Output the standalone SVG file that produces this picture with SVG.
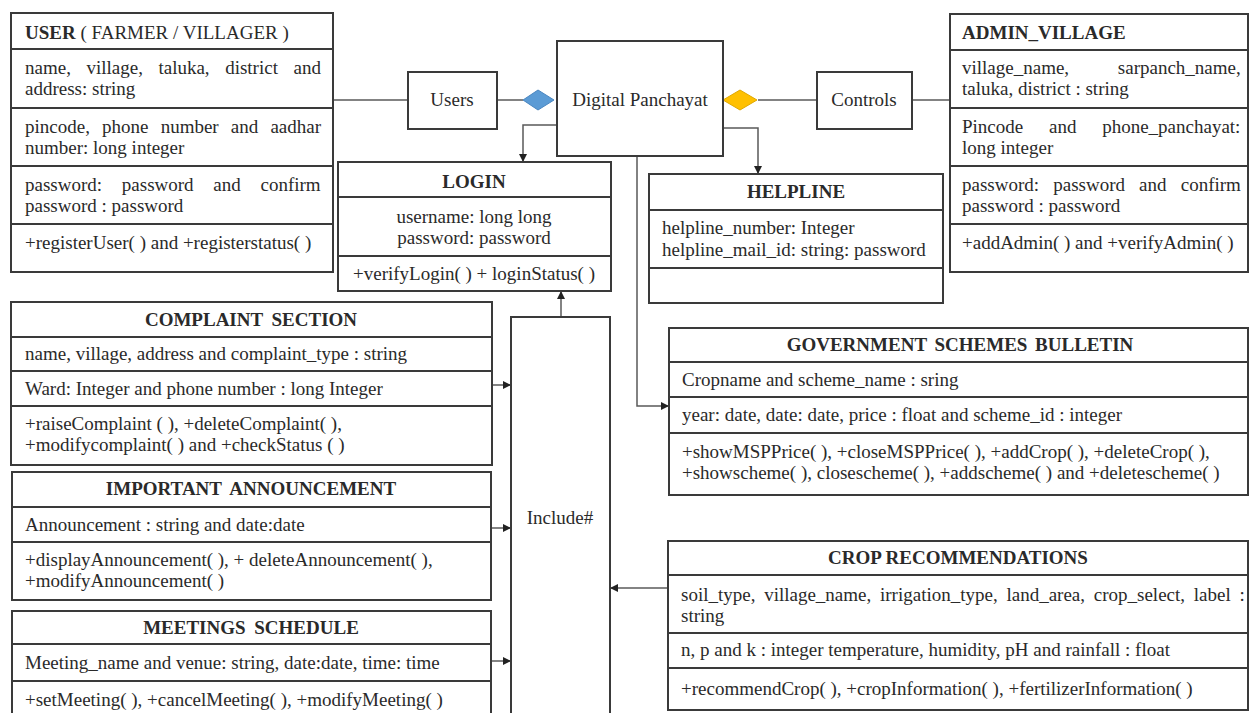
<svg xmlns="http://www.w3.org/2000/svg" width="1250" height="713" viewBox="0 0 1250 713">
<style>
.bx{fill:#fff;stroke:#3a3a3a;stroke-width:2}
.dv{stroke:#3a3a3a;stroke-width:2}
.cn{fill:none;stroke:#5a5a5a;stroke-width:1.5}
text{font-family:"Liberation Serif","Times New Roman",serif;font-size:19px;fill:#2a2a2a}
.b{font-weight:bold}
.c{text-anchor:middle}
</style>
<defs>
<marker id="ah" viewBox="0 0 10 10" refX="10" refY="5" markerWidth="8" markerHeight="8" markerUnits="userSpaceOnUse" orient="auto">
<path d="M0,0 L10,5 L0,10 z" fill="#222"/>
</marker>
</defs>
<rect width="1250" height="713" fill="#fff"/>

<g id="connectors">
<line class="cn" x1="333" y1="100" x2="408" y2="100"/>
<line class="cn" x1="497" y1="100" x2="523" y2="100"/>
<line class="cn" x1="758" y1="100" x2="817" y2="100"/>
<line class="cn" x1="912" y1="100" x2="950" y2="100"/>
<polyline class="cn" points="557,125 523,125 523,162" marker-end="url(#ah)"/>
<polyline class="cn" points="723,128 758,128 758,174" marker-end="url(#ah)"/>
<polyline class="cn" points="637,156 637,406 669,406" marker-end="url(#ah)"/>
<line class="cn" x1="561" y1="317" x2="561" y2="291" marker-end="url(#ah)"/>
<line class="cn" x1="492" y1="385" x2="511" y2="385" marker-end="url(#ah)"/>
<line class="cn" x1="491" y1="528" x2="511" y2="528" marker-end="url(#ah)"/>
<line class="cn" x1="491" y1="661" x2="511" y2="661" marker-end="url(#ah)"/>
<line class="cn" x1="668" y1="588" x2="610" y2="588" marker-end="url(#ah)"/>
<polygon points="523,100 538,90 554,100 538,110" fill="#5b9bd5" stroke="#4a86c0" stroke-width="1"/>
<polygon points="723,100 740,90 757,100 740,110" fill="#ffc000" stroke="#e0a800" stroke-width="1"/>
</g>

<g id="user">
<rect class="bx" x="11" y="13" width="322" height="259"/>
<line class="dv" x1="11" y1="49" x2="333" y2="49"/>
<line class="dv" x1="11" y1="108" x2="333" y2="108"/>
<line class="dv" x1="11" y1="166" x2="333" y2="166"/>
<line class="dv" x1="11" y1="224" x2="333" y2="224"/>
<text x="25" y="39"><tspan class="b">USER</tspan> ( FARMER / VILLAGER )</text>
<text x="25" y="74" word-spacing="10.8">name, village, taluka, district and</text>
<text x="25" y="95">address: string</text>
<text x="25" y="133" word-spacing="7.4">pincode, phone number and aadhar</text>
<text x="25" y="154">number: long integer</text>
<text x="25" y="191" word-spacing="15">password: password and confirm</text>
<text x="25" y="212">password : password</text>
<text x="25" y="249">+registerUser( ) and +registerstatus( )</text>
</g>

<g id="users">
<rect class="bx" x="408" y="72" width="89" height="57"/>
<text class="c" x="452" y="106">Users</text>
</g>

<g id="digital-panchayat">
<rect class="bx" x="557" y="41" width="166" height="115"/>
<text class="c" x="640" y="106">Digital Panchayat</text>
</g>

<g id="controls">
<rect class="bx" x="817" y="72" width="95" height="57"/>
<text class="c" x="864" y="106">Controls</text>
</g>

<g id="admin-village">
<rect class="bx" x="950" y="14" width="298" height="258"/>
<line class="dv" x1="950" y1="50" x2="1248" y2="50"/>
<line class="dv" x1="950" y1="108" x2="1248" y2="108"/>
<line class="dv" x1="950" y1="166" x2="1248" y2="166"/>
<line class="dv" x1="950" y1="224" x2="1248" y2="224"/>
<text class="b" x="962" y="39">ADMIN_VILLAGE</text>
<text x="962" y="74" word-spacing="44">village_name, sarpanch_name,</text>
<text x="962" y="95">taluka, district : string</text>
<text x="962" y="133" word-spacing="21">Pincode and phone_panchayat:</text>
<text x="962" y="154">long integer</text>
<text x="962" y="191" word-spacing="9.4">password: password and confirm</text>
<text x="962" y="212">password : password</text>
<text x="962" y="249">+addAdmin( ) and +verifyAdmin( )</text>
</g>

<g id="login">
<rect class="bx" x="338" y="162" width="273" height="129"/>
<line class="dv" x1="338" y1="197" x2="611" y2="197"/>
<line class="dv" x1="338" y1="256" x2="611" y2="256"/>
<text class="b c" x="474" y="188">LOGIN</text>
<text class="c" x="474" y="223">username: long long</text>
<text class="c" x="474" y="244">password: password</text>
<text class="c" x="474" y="280">+verifyLogin( ) + loginStatus( )</text>
</g>

<g id="helpline">
<rect class="bx" x="649" y="174" width="294" height="129"/>
<line class="dv" x1="649" y1="210" x2="943" y2="210"/>
<line class="dv" x1="649" y1="268" x2="943" y2="268"/>
<text class="b c" x="796" y="198">HELPLINE</text>
<text x="662" y="234">helpline_number: Integer</text>
<text x="662" y="256">helpline_mail_id: string: password</text>
</g>

<g id="complaint-section">
<rect class="bx" x="11" y="302" width="481" height="163"/>
<line class="dv" x1="11" y1="337" x2="492" y2="337"/>
<line class="dv" x1="11" y1="371" x2="492" y2="371"/>
<line class="dv" x1="11" y1="406" x2="492" y2="406"/>
<text class="b c" x="251" y="326" word-spacing="4">COMPLAINT SECTION</text>
<text x="25" y="360">name, village, address and complaint_type  : string</text>
<text x="25" y="395">Ward: Integer and phone number  : long Integer</text>
<text x="25" y="430">+raiseComplaint ( ), +deleteComplaint( ),</text>
<text x="25" y="451">+modifycomplaint( ) and +checkStatus ( )</text>
</g>

<g id="important-announcement">
<rect class="bx" x="12" y="472" width="479" height="128"/>
<line class="dv" x1="12" y1="507" x2="491" y2="507"/>
<line class="dv" x1="12" y1="542" x2="491" y2="542"/>
<text class="b c" x="251" y="495" word-spacing="4">IMPORTANT ANNOUNCEMENT</text>
<text x="25" y="531">Announcement  : string and date:date</text>
<text x="25" y="566">+displayAnnouncement( ), + deleteAnnouncement( ),</text>
<text x="25" y="587">+modifyAnnouncement( )</text>
</g>

<g id="meetings-schedule">
<rect class="bx" x="12" y="611" width="479" height="110"/>
<line class="dv" x1="12" y1="644" x2="491" y2="644"/>
<line class="dv" x1="12" y1="681" x2="491" y2="681"/>
<text class="b c" x="251" y="634" word-spacing="4">MEETINGS SCHEDULE</text>
<text x="25" y="669">Meeting_name  and venue: string, date:date, time: time</text>
<text x="25" y="706">+setMeeting( ), +cancelMeeting( ), +modifyMeeting( )</text>
</g>

<g id="include">
<rect class="bx" x="511" y="317" width="99" height="410"/>
<text class="c" x="560" y="524">Include#</text>
</g>

<g id="government-schemes-bulletin">
<rect class="bx" x="669" y="328" width="579" height="167"/>
<line class="dv" x1="669" y1="362" x2="1248" y2="362"/>
<line class="dv" x1="669" y1="397" x2="1248" y2="397"/>
<line class="dv" x1="669" y1="433" x2="1248" y2="433"/>
<text class="b c" x="960" y="351" word-spacing="3">GOVERNMENT SCHEMES BULLETIN</text>
<text x="682" y="386">Cropname  and scheme_name  : sring</text>
<text x="682" y="421">year: date, date: date, price : float and scheme_id : integer</text>
<text x="682" y="458">+showMSPPrice( ), +closeMSPPrice( ), +addCrop( ), +deleteCrop( ),</text>
<text x="682" y="479">+showscheme( ), closescheme( ), +addscheme( ) and +deletescheme( )</text>
</g>

<g id="crop-recommendations">
<rect class="bx" x="668" y="541" width="580" height="169"/>
<line class="dv" x1="668" y1="575" x2="1248" y2="575"/>
<line class="dv" x1="668" y1="633" x2="1248" y2="633"/>
<line class="dv" x1="668" y1="668" x2="1248" y2="668"/>
<text class="b c" x="958" y="564">CROP RECOMMENDATIONS</text>
<text x="681" y="601" word-spacing="4">soil_type, village_name, irrigation_type, land_area, crop_select, label :</text>
<text x="681" y="622">string</text>
<text x="681" y="656">n, p and k : integer  temperature, humidity,  pH and rainfall : float</text>
<text x="681" y="695">+recommendCrop( ), +cropInformation( ), +fertilizerInformation( )</text>
</g>
</svg>
